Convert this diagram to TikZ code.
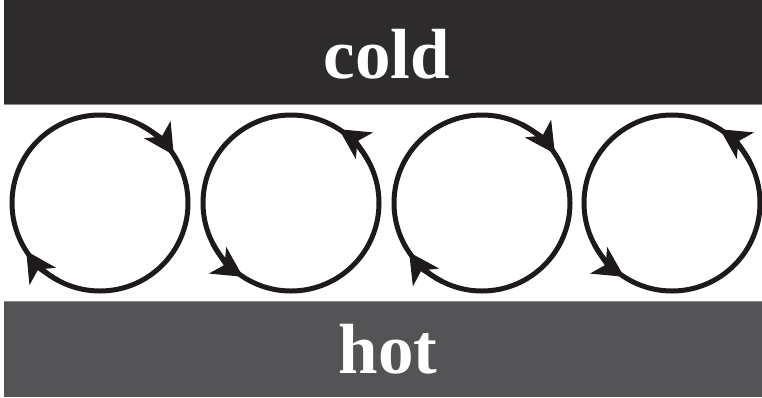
\documentclass[tikz,border=0pt]{standalone}
\usepackage{fontspec}
\setmainfont{Liberation Serif}
\usetikzlibrary{arrows.meta}
\definecolor{colddark}{HTML}{2E2B2C}
\definecolor{hotgray}{HTML}{545456}
\definecolor{edgegray}{HTML}{8A8A8A}
\definecolor{ink}{HTML}{1E1A1B}
\tikzset{
  band/.style={fill=#1, draw=none},
  label/.style={text=white, font=\fontsize{71}{71}\selectfont\bfseries, inner sep=0pt, anchor=base},
  roll/.style={circle, draw=ink, line width=5pt, minimum size=176pt, inner sep=0pt},
  flow/.style={draw=ink, line width=5pt, -{Stealth[length=30pt,width=31pt,inset=8pt]}}
}
\begin{document}
\begin{tikzpicture}[x=1pt,y=-1pt]
\useasboundingbox (0,0) rectangle (762,397);
\fill[white] (0,0) rectangle (762,397);
% bands
\path[band=colddark] (4,0) rectangle (762,104);
\draw[edgegray, line width=1pt] (4,104) -- (762,104);
\path[band=hotgray] (4,301) rectangle (762,397);
\draw[edgegray, line width=1pt] (4,301) -- (762,301);
\node[label] (cold) at (387,78) {cold};
\node[label] (hot) at (388,373) {hot};
% rolls
\node[roll] (c1) at (100,203) {};
\node[roll] (c2) at (291,203) {};
\node[roll] (c3) at (482,203) {};
\node[roll] (c4) at (672,203) {};
% clockwise (on screen) arrows: y flipped, so screen angle a -> -a
\draw[flow] (c1.center) ++(-62:88) arc[start angle=-62, end angle=-33, radius=88];
\draw[flow] (c1.center) ++(-242:88) arc[start angle=-242, end angle=-213, radius=88];
\draw[flow] (c3.center) ++(-63:88) arc[start angle=-63, end angle=-34, radius=88];
\draw[flow] (c3.center) ++(-243:88) arc[start angle=-243, end angle=-214, radius=88];
% counterclockwise (on screen)
\draw[flow] (c2.center) ++(-28:88) arc[start angle=-28, end angle=-57, radius=88];
\draw[flow] (c2.center) ++(-208:88) arc[start angle=-208, end angle=-237, radius=88];
\draw[flow] (c4.center) ++(-28:88) arc[start angle=-28, end angle=-57, radius=88];
\draw[flow] (c4.center) ++(-208:88) arc[start angle=-208, end angle=-237, radius=88];
\end{tikzpicture}
\end{document}
